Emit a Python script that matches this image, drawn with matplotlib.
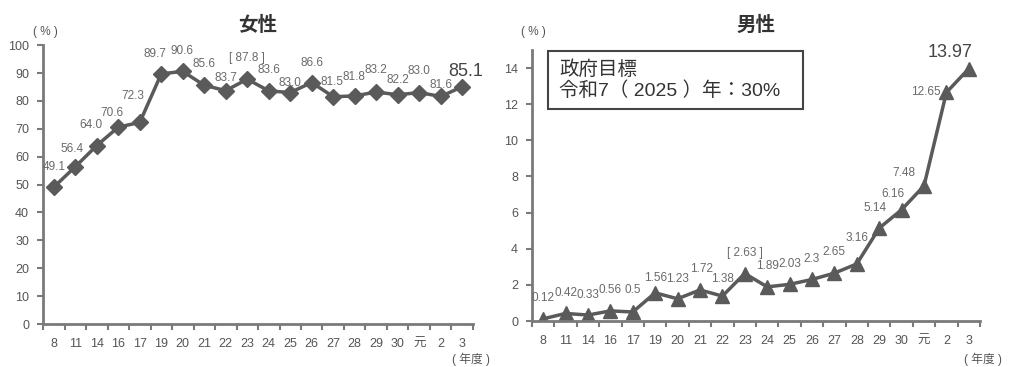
import matplotlib
matplotlib.use("Agg")
import matplotlib.pyplot as plt
from matplotlib.patches import Rectangle

plt.rcParams['font.family'] = ['Liberation Sans', 'Noto Sans CJK JP', 'DejaVu Sans']

# Data
years = ['8', '11', '14', '16', '17', '19', '20', '21', '22', '23',
         '24', '25', '26', '27', '28', '29', '30', '元', '2', '3']
female = [49.1, 56.4, 64.0, 70.6, 72.3, 89.7, 90.6, 85.6, 83.7, 87.8,
          83.6, 83.0, 86.6, 81.5, 81.8, 83.2, 82.2, 83.0, 81.6, 85.1]
female_labels = ['49.1', '56.4', '64.0', '70.6', '72.3', '89.7', '90.6', '85.6', '83.7', '[ 87.8 ]',
                 '83.6', '83.0', '86.6', '81.5', '81.8', '83.2', '82.2', '83.0', '81.6', '85.1']
male = [0.12, 0.42, 0.33, 0.56, 0.5, 1.56, 1.23, 1.72, 1.38, 2.63,
        1.89, 2.03, 2.3, 2.65, 3.16, 5.14, 6.16, 7.48, 12.65, 13.97]
male_labels = ['0.12', '0.42', '0.33', '0.56', '0.5', '1.56', '1.23', '1.72', '1.38', '[ 2.63 ]',
               '1.89', '2.03', '2.3', '2.65', '3.16', '5.14', '6.16', '7.48', '12.65', '13.97']

# label offsets in pixels (dx, dy up)
female_off = [(0, 20), (-3, 18), (-6, 21), (-6, 14), (-7, 26), (-6, 20), (-1, 20), (0, 21),
              (0, 13), (0, 21), (0, 21), (0, 10), (0, 20), (-1, 15), (-1, 19), (0, 22),
              (0, 15), (0, 22), (0, 11), (3, 15)]
male_off = [(0, 21), (0, 20), (0, 20), (0, 21), (0, 22), (0, 15), (0, 20), (2, 21),
            (0, 17), (0, 21), (0, 21), (0, 20), (0, 20), (0, 21), (0, 26), (-4, 20),
            (-9, 16), (-20, 13), (-21, 0), (-19, 16)]

line_c = '#5a5a5a'
text_c = '#6a6a6a'
axis_c = '#7a7a7a'

fig = plt.figure(figsize=(10.1, 3.67), dpi=100)
ax1 = fig.add_axes([0.0426, 0.117, 0.4257, 0.760])
ax2 = fig.add_axes([0.5267, 0.1253, 0.4436, 0.7384])

x = list(range(len(years)))


def style(ax, ymax, ystep, yticks_max):
    ax.set_xlim(-0.5, len(years) - 0.5)
    ax.set_ylim(0, ymax)
    for s in ['top', 'right']:
        ax.spines[s].set_visible(False)
    for s in ['left', 'bottom']:
        ax.spines[s].set_color(axis_c)
        ax.spines[s].set_linewidth(2)
    ax.set_yticks(range(0, yticks_max + 1, ystep))
    ax.set_xticks([i - 0.5 for i in range(len(years) + 1)])
    ax.set_xticklabels([])
    ax.set_xticks(x, minor=True)
    ax.set_xticklabels(years, minor=True)
    ax.tick_params(axis='x', which='major', direction='out', length=4, width=1.5, color=axis_c)
    ax.tick_params(axis='x', which='minor', length=0, pad=10, labelsize=9, labelcolor='#555555')
    ax.tick_params(axis='y', direction='out', length=4, width=1.5, color=axis_c,
                   labelsize=9, labelcolor='#555555', pad=6)


# Female
ax1.plot(x, female, color=line_c, linewidth=2.5, marker='D', markersize=8,
         markerfacecolor=line_c, markeredgecolor=line_c)
style(ax1, 100, 10, 100)
for i, (v, lab) in enumerate(zip(female, female_labels)):
    dx, dy = female_off[i]
    big = i == len(female) - 1
    ax1.annotate(lab, (i, v), xytext=(dx, dy), textcoords='offset pixels',
                 ha='center', va='center', fontsize=13 if big else 8.5,
                 color='#444444' if big else text_c)
ax1.set_title('女性', fontsize=14, fontweight='bold', color='#333333', pad=10)
fig.text(0.045, 0.913, '( % )', fontsize=8.5, color='#555555', ha='center', va='center')
fig.text(0.466, 0.02, '( 年度 )', fontsize=8.5, color='#555555', ha='center', va='center')

# Male
ax2.plot(x, male, color=line_c, linewidth=2.5, marker='^', markersize=10,
         markerfacecolor=line_c, markeredgecolor=line_c)
style(ax2, 15, 2, 14)
for i, (v, lab) in enumerate(zip(male, male_labels)):
    dx, dy = male_off[i]
    big = i == len(male) - 1
    ax2.annotate(lab, (i, v), xytext=(dx, dy), textcoords='offset pixels',
                 ha='center', va='center', fontsize=13 if big else 8.5,
                 color='#444444' if big else text_c)
ax2.set_title('男性', fontsize=14, fontweight='bold', color='#333333', pad=14)
fig.text(0.528, 0.913, '( % )', fontsize=8.5, color='#555555', ha='center', va='center')
fig.text(0.973, 0.02, '( 年度 )', fontsize=8.5, color='#555555', ha='center', va='center')

box = Rectangle((548 / 1010, 1 - 109 / 367), 255 / 1010, 58 / 367, transform=fig.transFigure,
                fill=False, edgecolor='#444444', linewidth=1.5)
fig.patches.append(box)
fig.text(559 / 1010, 1 - 80 / 367, '政府目標\n令和7（ 2025 ）年：30%', fontsize=14,
         color='#333333', ha='left', va='center', linespacing=1.15)

fig.savefig('out.png', dpi=100, facecolor='white')
